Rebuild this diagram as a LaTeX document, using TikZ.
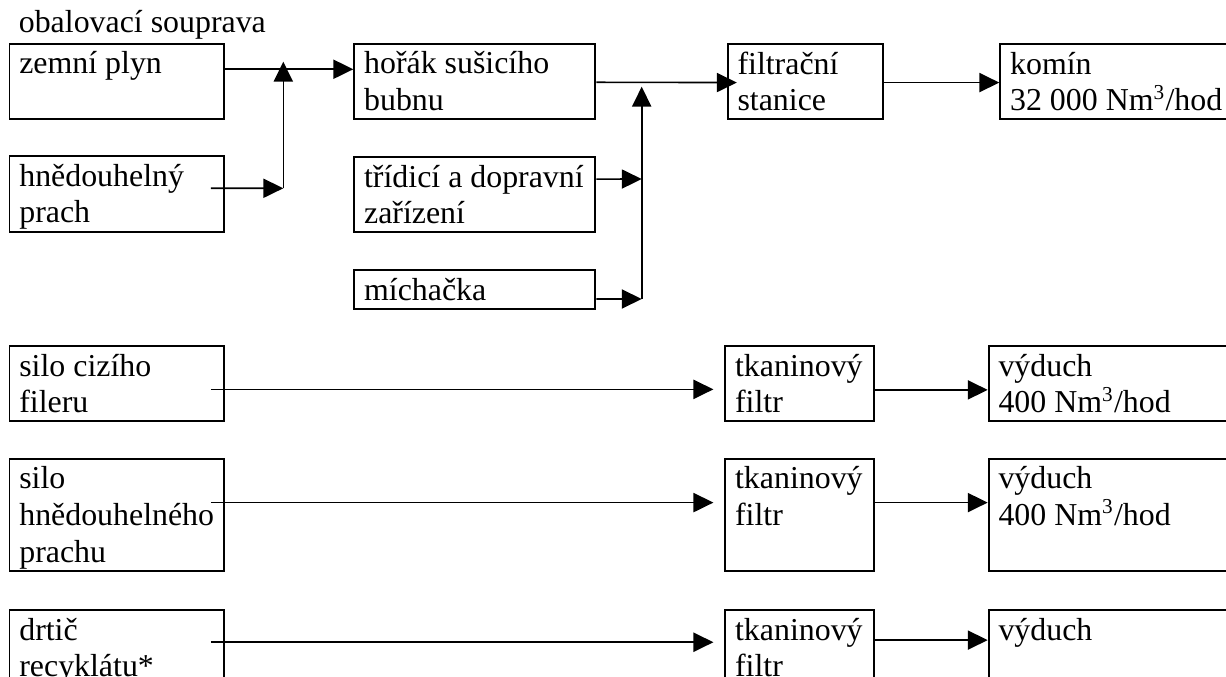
\documentclass[tikz,border=0pt]{standalone}
\usepackage{fontspec}
\setmainfont{Liberation Serif}
\usetikzlibrary{arrows.meta}
\newcommand{\boxstrut}{\leavevmode\vrule height 10.9pt depth 2.9pt width 0pt\relax}

\begin{document}
\begin{tikzpicture}[x=0.3764pt ,y=-0.3764pt ,
box/.style ={draw ,line width=0.75pt ,anchor=north west ,align=flush left ,
inner xsep=3.7pt ,inner ysep=0.4pt ,text width=#1 ,
font=\fontsize{12}{13.8}\selectfont ,
execute at begin node=\boxstrut ,execute at end node=\boxstrut},
box/.default=73.3pt ,
title/.style ={anchor=base west ,inner xsep=3.7pt ,inner ysep=0pt ,
font=\fontsize{12}{13.8}\selectfont},
flow/.style ={line width=0.6pt ,-{Triangle[length=7.5pt,width=7.2pt]}}]
\useasboundingbox (0,0) rectangle (1226,677);
\clip (0,0) rectangle (1226,677);

\node[title] (souprava) at (8.5,33) {obalovací souprava};
\node[box] (zemni) at (8.5,42.7) {zemní plyn\\\boxstrut};
\node[box] (hnedo) at (8.5,155.3) {hnědouhelný\\prach};
\node[box=83.3pt] (horak) at (353.3,42.7) {hořák sušicího\\bubnu};
\node[box=83.3pt] (tridici) at (353.3,156) {\mbox{třídicí a dopravní}\\zařízení};
\node[box=83.3pt] (michacka) at (353.3,269) {míchačka};
\node[box=50.9pt] (filtr) at (726.7,43) {filtrační\\stanice};
\node[box=100pt] (komin) at (999.3,43) {komín\\\mbox{32~000 Nm\textsuperscript{3}/hod}};

\node[box] (silo1) at (8.5,345) {silo cizího\\fileru};
\node[box] (silo2) at (8.5,457.7) {silo\\\mbox{hnědouhelného}\\prachu};
\node[box] (drtic) at (8.5,609.3) {drtič\\recyklátu*};
\node[box=48.7pt] (tkan1) at (724.3,345) {\mbox{tkaninový}\\filtr};
\node[box=48.7pt] (tkan2) at (724.3,457.7) {\mbox{tkaninový}\\filtr\\\boxstrut};
\node[box=48.7pt] (tkan3) at (724.3,609.3) {\mbox{tkaninový}\\filtr};
\node[box=100pt] (vyduch1) at (987.7,345) {výduch\\400 Nm\textsuperscript{3}/hod};
\node[box=100pt] (vyduch2) at (987.7,457.7) {výduch\\400 Nm\textsuperscript{3}/hod\\\boxstrut};
\node[box=100pt] (vyduch3) at (987.7,609.3) {výduch\\\boxstrut};

\coordinate (j1) at (283.3,188.3);
\coordinate (j1top) at (283.3,61.7);
\coordinate (j2) at (641.7,299);
\coordinate (j2mid) at (641.7,179);
\coordinate (j2top) at (641.7,86.7);

\draw[flow] ([yshift=-10pt]zemni.north east) -- ([yshift=-10pt]horak.north west);
\draw[flow] ([xshift=-5.3pt,yshift=-12.4pt]hnedo.north east) -- (j1);
\draw[flow] (j1) -- (j1top);
\draw[flow] ([yshift=-14.9pt]horak.north east) -- ([xshift=3.8pt,yshift=-14.9pt]filtr.north west);
\draw[flow] ([yshift=-8.7pt]tridici.north east) -- (j2mid);
\draw[flow] ([yshift=-11.3pt]michacka.north east) -- (j2);
\draw[flow] (j2) -- (j2top);
\draw[flow] ([yshift=-14.9pt]filtr.north east) -- ([yshift=-14.9pt]komin.north west);

\draw[flow] ([xshift=-5.3pt,yshift=-16.7pt]silo1.north east) -- ([xshift=-4.1pt,yshift=-16.7pt]tkan1.north west);
\draw[flow] ([yshift=-16.9pt]tkan1.north east) -- ([yshift=-16.9pt]vyduch1.north west);
\draw[flow] ([xshift=-5.3pt,yshift=-16.9pt]silo2.north east) -- ([xshift=-4.1pt,yshift=-16.9pt]tkan2.north west);
\draw[flow] ([yshift=-16.9pt]tkan2.north east) -- ([yshift=-16.9pt]vyduch2.north west);
\draw[flow] ([xshift=-5.3pt,yshift=-12.4pt]drtic.north east) -- ([xshift=-4.1pt,yshift=-12.4pt]tkan3.north west);
\draw[flow] ([yshift=-11.6pt]tkan3.north east) -- ([yshift=-11.6pt]vyduch3.north west);
\end{tikzpicture}
\end{document}
